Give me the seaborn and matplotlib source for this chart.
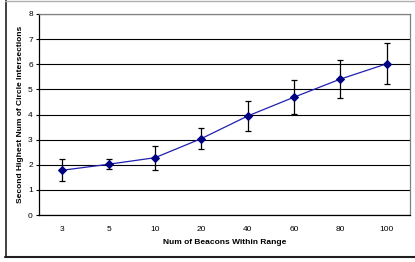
import matplotlib
matplotlib.use("Agg")
import matplotlib.pyplot as plt
import seaborn as sns
import numpy as np
import pandas as pd
from matplotlib.lines import Line2D

# data
beacons = ["3", "5", "10", "20", "40", "60", "80", "100"]
intersections = [1.78, 2.02, 2.28, 3.04, 3.94, 4.69, 5.41, 6.02]
errors = [0.43, 0.20, 0.47, 0.42, 0.59, 0.67, 0.77, 0.81]

df = pd.DataFrame({"pos": np.arange(len(beacons)), "value": intersections})

sns.set_style("white")
plt.rcParams["font.family"] = ["Liberation Sans", "DejaVu Sans"]
plt.rcParams["text.color"] = "black"
plt.rcParams["axes.labelcolor"] = "black"
plt.rcParams["xtick.color"] = "black"
plt.rcParams["ytick.color"] = "black"

fig = plt.figure(figsize=(4.15, 2.62), dpi=100)
ax = fig.add_axes([39 / 415, 47 / 262, 371 / 415, 201 / 262])

# error bars first, then line + markers on top
ax.errorbar(df["pos"], df["value"], yerr=errors, fmt="none", ecolor="black",
            elinewidth=0.9, capsize=2.5, capthick=0.9, zorder=3)
sns.lineplot(data=df, x="pos", y="value", ax=ax, color="#2020b0", lw=0.9,
             marker="D", markersize=4, markerfacecolor="#000080",
             markeredgecolor="#000080", zorder=4)

ax.set_xlim(-0.5, len(beacons) - 0.5)
ax.set_ylim(0, 8)
ax.set_yticks(range(0, 9))
ax.yaxis.grid(True, color="black", lw=0.8)
ax.set_axisbelow(True)

ax.set_xticks(np.arange(len(beacons)))
ax.set_xticklabels(beacons)
ax.set_xticks(np.arange(len(beacons) + 1) - 0.5, minor=True)
ax.tick_params(axis="x", which="major", length=0, labelsize=6, pad=8)
ax.tick_params(axis="x", which="minor", length=2.5, width=0.8, direction="out",
               color="black")
ax.tick_params(axis="y", length=2.5, width=0.8, direction="out", labelsize=6,
               pad=2, left=True)

ax.set_xlabel("Num of Beacons Within Range", fontsize=6, fontweight="bold",
              labelpad=4)
ax.set_ylabel("Second Highest Num of Circle Intersections", fontsize=6,
              fontweight="bold", labelpad=3)

for side in ["left", "bottom"]:
    ax.spines[side].set_color("black")
    ax.spines[side].set_linewidth(0.9)
for side in ["top", "right"]:
    ax.spines[side].set_visible(True)
    ax.spines[side].set_color("#808080")
    ax.spines[side].set_linewidth(0.9)

# outer chart frame
fig.add_artist(Line2D([5.5 / 415, 5.5 / 415], [5 / 262, 1], color="#202020", lw=1.2))
fig.add_artist(Line2D([5 / 415, 1], [5 / 262, 5 / 262], color="#202020", lw=1.5))
fig.add_artist(Line2D([5 / 415, 1], [261 / 262, 261 / 262], color="#b0b0b0", lw=1.0))

fig.savefig("out.png", dpi=100, facecolor="white")
